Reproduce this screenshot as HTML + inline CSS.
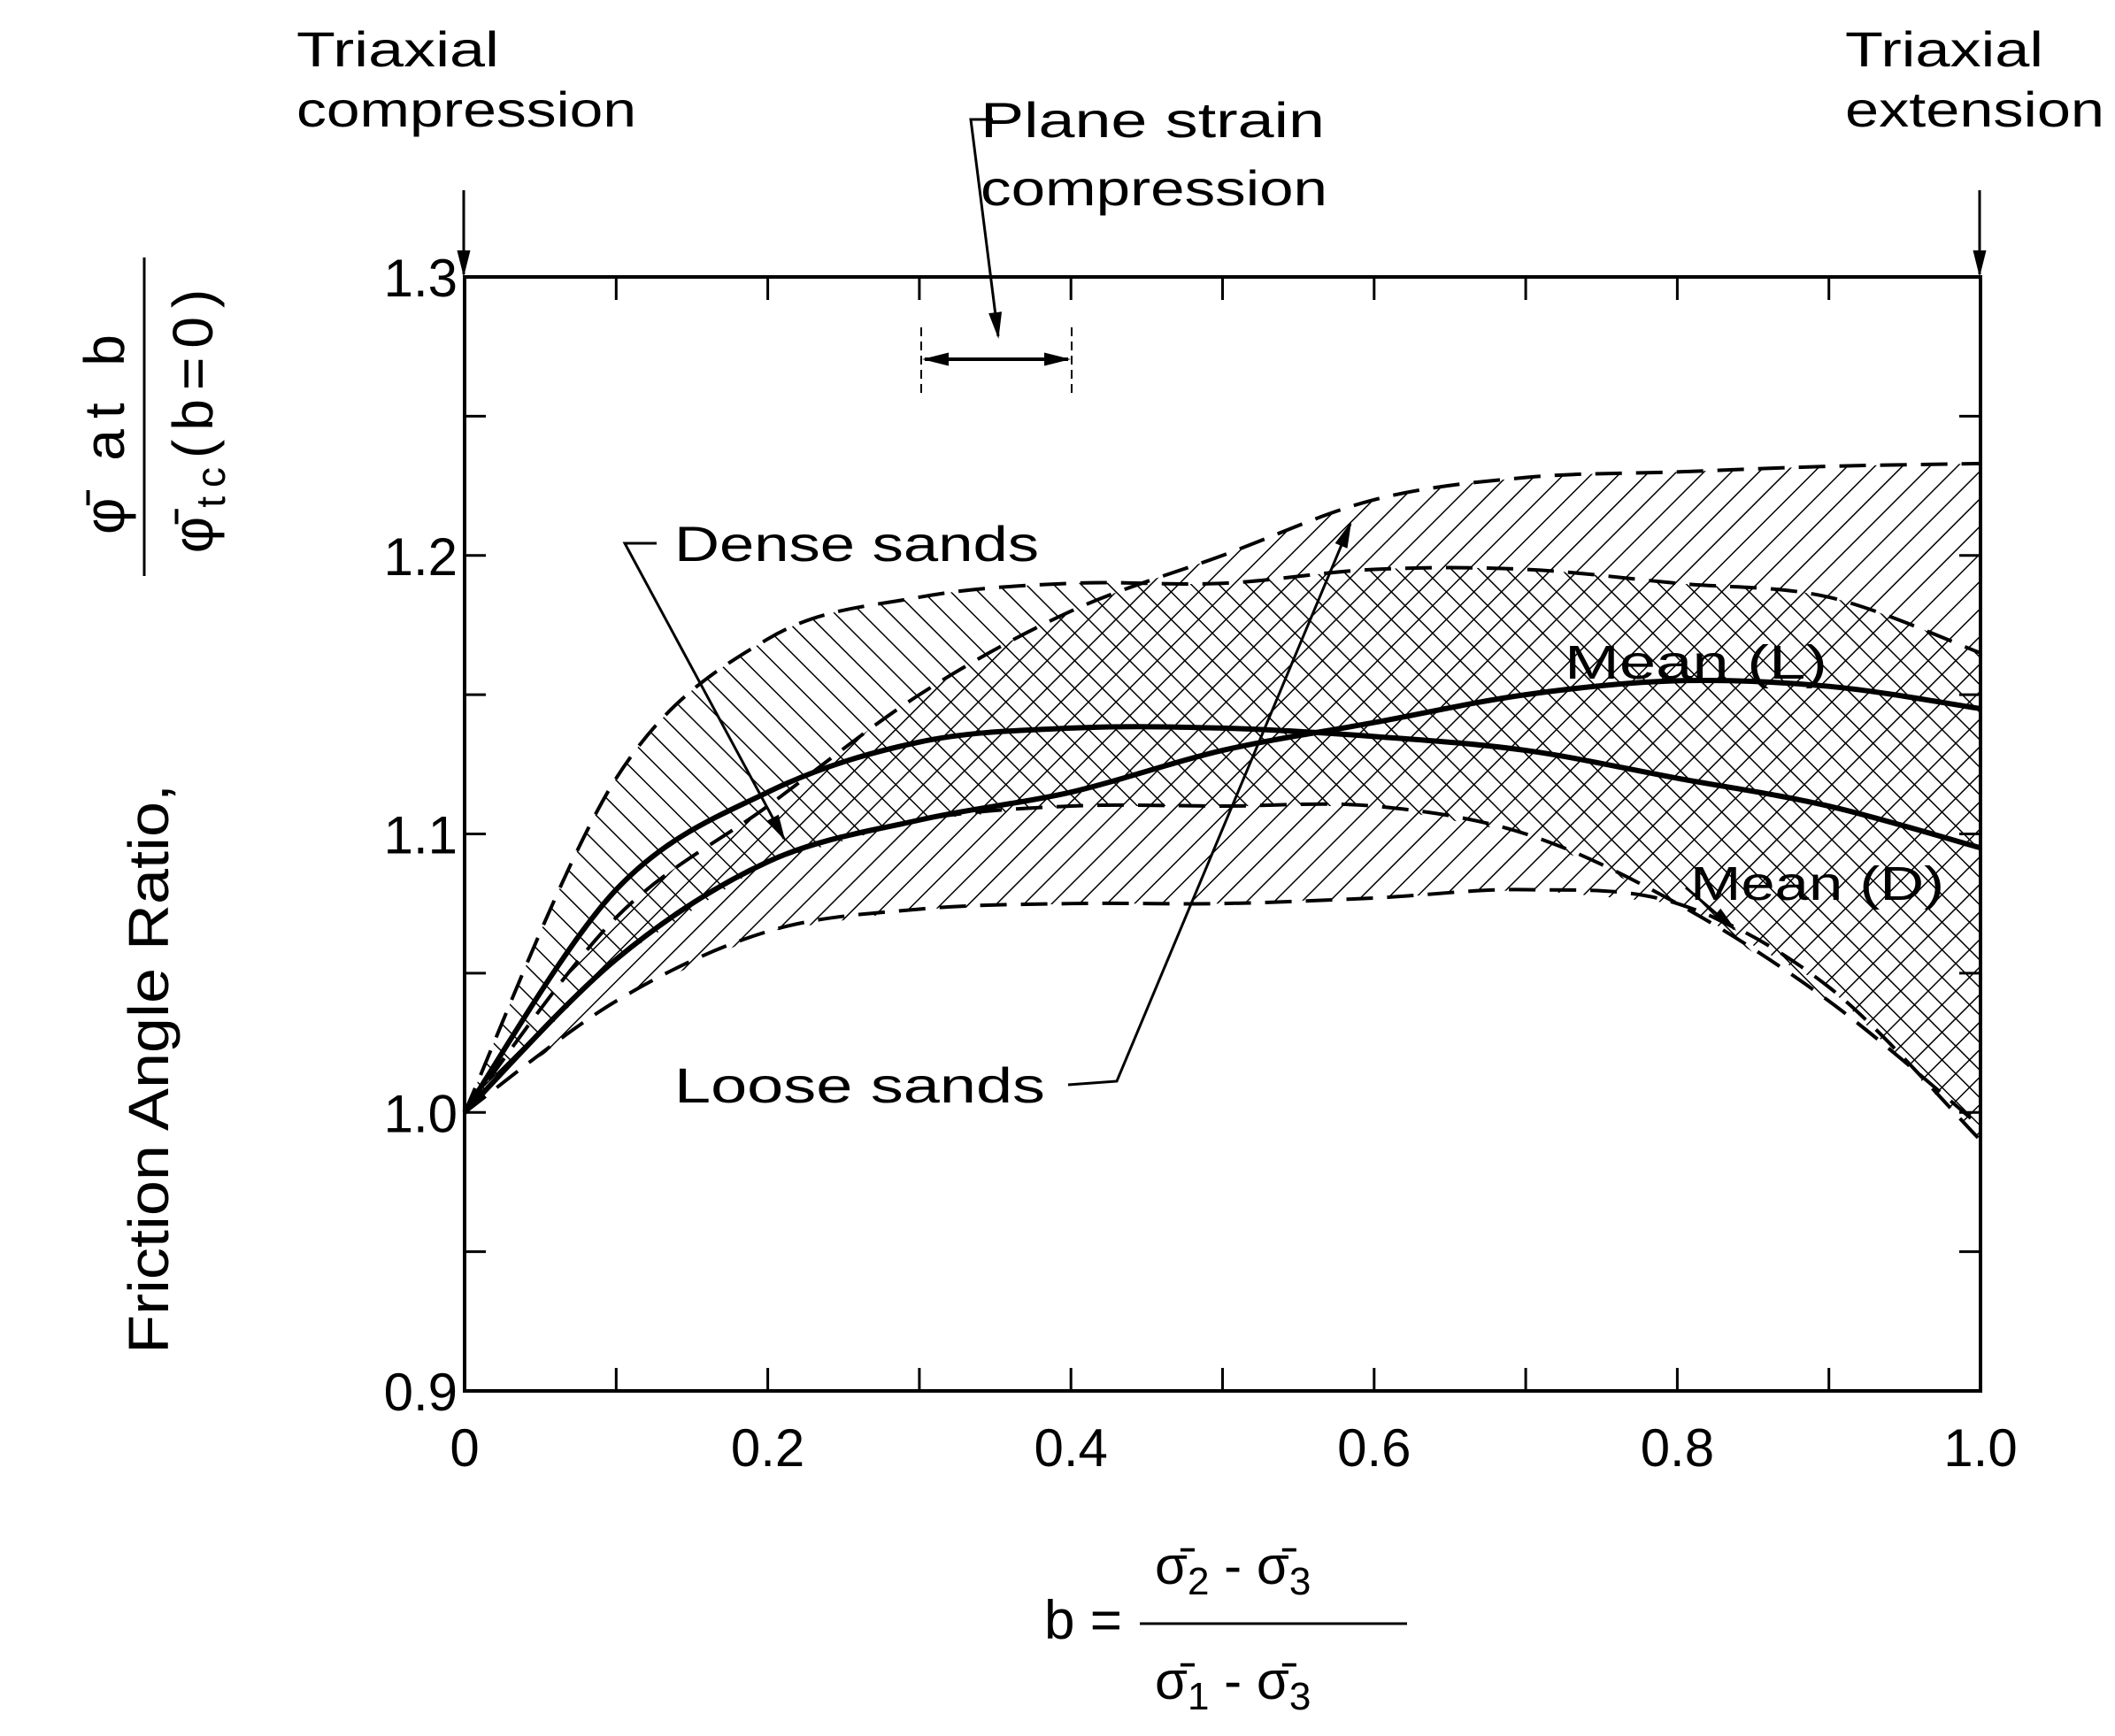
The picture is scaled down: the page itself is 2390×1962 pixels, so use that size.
<!DOCTYPE html>
<html><head><meta charset="utf-8"><style>
html,body{margin:0;padding:0;background:#fff;}
svg{display:block;}
text{font-family:"Liberation Sans",sans-serif;fill:#000;}
</style></head><body>
<svg id="chart" width="2390" height="1962" viewBox="0 0 2390 1962" xmlns="http://www.w3.org/2000/svg">
<defs>
<pattern id="hatchF" patternUnits="userSpaceOnUse" width="22" height="22" patternTransform="rotate(45)"><line x1="0" y1="0" x2="0" y2="22" stroke="#000" stroke-width="3"/></pattern>
<pattern id="hatchB" patternUnits="userSpaceOnUse" width="22" height="22" patternTransform="rotate(-45)"><line x1="0" y1="0" x2="0" y2="22" stroke="#000" stroke-width="3"/></pattern>
<marker id="ahb" viewBox="0 0 10 10" refX="9" refY="5" markerWidth="40" markerHeight="30" orient="auto-start-reverse" markerUnits="userSpaceOnUse"><path d="M0,2.5 L10,5 L0,7.5 z" fill="#000"/></marker>
</defs>
<g id="plot"></g>
<g id="annot">
<text x="335" y="75" font-size="56" textLength="229" lengthAdjust="spacingAndGlyphs">Triaxial</text>
<text x="335" y="143" font-size="56" textLength="384" lengthAdjust="spacingAndGlyphs">compression</text>
<line x1="524" y1="215" x2="524" y2="310" stroke="#000" stroke-width="3" marker-end="url(#ahb)"/>
<text x="2085" y="75" font-size="56" textLength="224" lengthAdjust="spacingAndGlyphs">Triaxial</text>
<text x="2085" y="143" font-size="56" textLength="293" lengthAdjust="spacingAndGlyphs">extension</text>
<line x1="2237" y1="215" x2="2237" y2="310" stroke="#000" stroke-width="3" marker-end="url(#ahb)"/>
<text x="1108" y="155" font-size="56" textLength="389" lengthAdjust="spacingAndGlyphs">Plane strain</text>
<text x="1108" y="232" font-size="56" textLength="392" lengthAdjust="spacingAndGlyphs">compression</text>
<polyline points="1122,135 1097,135 1128,380" fill="none" stroke="#000" stroke-width="3" marker-end="url(#ahb)"/>
<line x1="1041" y1="370" x2="1041" y2="445" stroke="#000" stroke-width="2" stroke-dasharray="10,6"/>
<line x1="1211" y1="370" x2="1211" y2="445" stroke="#000" stroke-width="2" stroke-dasharray="10,6"/>
<line x1="1045" y1="406" x2="1207" y2="406" stroke="#000" stroke-width="4" marker-start="url(#ahb)" marker-end="url(#ahb)"/>
<text x="762" y="634" font-size="56" textLength="412" lengthAdjust="spacingAndGlyphs">Dense sands</text>
<polyline points="742,614 706,614 886,948" fill="none" stroke="#000" stroke-width="3" marker-end="url(#ahb)"/>
<text x="762" y="1246" font-size="56" textLength="419" lengthAdjust="spacingAndGlyphs">Loose sands</text>
<polyline points="1207,1226 1262,1222 1526,592" fill="none" stroke="#000" stroke-width="3" marker-end="url(#ahb)"/>
<text x="1768" y="767" font-size="54" textLength="297" lengthAdjust="spacingAndGlyphs">Mean (L)</text>
<text x="1910" y="1017" font-size="54" textLength="287" lengthAdjust="spacingAndGlyphs">Mean (D)</text>
<line x1="1905" y1="1003" x2="1960" y2="1050" stroke="#000" stroke-width="3" marker-end="url(#ahb)"/>
<g transform="translate(168,1530) rotate(-90)">
<text x="0" y="22" font-size="64" textLength="644" lengthAdjust="spacingAndGlyphs">Friction Angle Ratio,</text>
<line x1="879" y1="-5" x2="1239" y2="-5" stroke="#000" stroke-width="3"/>
<text x="1045" y="-28" font-size="64" letter-spacing="12" text-anchor="middle">φ̄ at b</text>
<text x="1059" y="72" font-size="64" letter-spacing="10" text-anchor="middle">φ̄<tspan font-size="46" dy="14">tc</tspan><tspan dy="-14">(b=0)</tspan></text>
</g>
<g>
<text x="1180" y="1852" font-size="62">b =</text>
<line x1="1288" y1="1835" x2="1590" y2="1835" stroke="#000" stroke-width="3"/>
<text x="1305" y="1790" font-size="60">σ̄<tspan font-size="44" dy="12">2</tspan><tspan dy="-12"> - σ̄</tspan><tspan font-size="44" dy="12">3</tspan></text>
<text x="1305" y="1920" font-size="60">σ̄<tspan font-size="44" dy="12">1</tspan><tspan dy="-12"> - σ̄</tspan><tspan font-size="44" dy="12">3</tspan></text>
</g>
</g>
</svg>
<script>
const xTicks=[0,0.1,0.2,0.3,0.4,0.5,0.6,0.7,0.8,0.9,1.0];
const xLabels=["0","0.2","0.4","0.6","0.8","1.0"];
const xLabelVals=[0,0.2,0.4,0.6,0.8,1.0];
const yTicks=[0.9,0.95,1.0,1.05,1.1,1.15,1.2,1.25,1.3];
const yLabels=["0.9","1.0","1.1","1.2","1.3"];
const yLabelVals=[0.9,1.0,1.1,1.2,1.3];
const bVals=[0,0.1,0.2,0.3,0.4,0.5,0.6,0.7,0.8,0.9,1.0];
const denseUpper=[1.0,1.12,1.17,1.185,1.19,1.19,1.195,1.195,1.19,1.185,1.165];
const denseLower=[1.0,1.055,1.09,1.105,1.11,1.11,1.11,1.1,1.075,1.04,0.995];
const looseUpper=[1.0,1.07,1.11,1.15,1.18,1.2,1.22,1.228,1.23,1.232,1.233];
const looseLower=[1.0,1.04,1.065,1.073,1.075,1.075,1.077,1.08,1.075,1.045,0.99];
const meanL=[1.0,1.055,1.09,1.105,1.115,1.13,1.14,1.15,1.155,1.153,1.145];
const meanD=[1.0,1.08,1.115,1.133,1.138,1.138,1.135,1.13,1.12,1.11,1.095];

const X0=525,X1=2238,Y0=1572,Y1=313,VMIN=0.9,VMAX=1.3;
const xs=b=>X0+b*(X1-X0);
const ys=v=>Y0-(v-VMIN)/(VMAX-VMIN)*(Y0-Y1);
const NS='http://www.w3.org/2000/svg';
const plot=document.getElementById('plot');
function mk(tag,attrs,parent){const e=document.createElementNS(NS,tag);for(const k in attrs)e.setAttribute(k,attrs[k]);(parent||plot).appendChild(e);return e;}
function smooth(vals){
  const p=bVals.map((b,i)=>[xs(b),ys(vals[i])]);
  let d='M'+p[0][0]+','+p[0][1];
  for(let i=0;i<p.length-1;i++){
    const p0=p[Math.max(0,i-1)],p1=p[i],p2=p[i+1],p3=p[Math.min(p.length-1,i+2)];
    const c1=[p1[0]+(p2[0]-p0[0])/6,p1[1]+(p2[1]-p0[1])/6];
    const c2=[p2[0]-(p3[0]-p1[0])/6,p2[1]-(p3[1]-p1[1])/6];
    d+=' C'+c1[0]+','+c1[1]+' '+c2[0]+','+c2[1]+' '+p2[0]+','+p2[1];
  }
  return d;
}
function reversePath(vals){const r=vals.slice().reverse();const bs=bVals.slice().reverse();
  return bs.map((b,i)=>'L'+xs(b)+','+ys(r[i])).join(' ');}
function band(up,lo,pat,name){
  const d=smooth(up)+' '+reversePath(lo)+' Z';
  const e=mk('path',{d:d,fill:'url(#'+pat+')',stroke:'none'});
  
  
}
band(looseUpper,looseLower,'hatchF','loose-sands-band');
band(denseUpper,denseLower,'hatchB','dense-sands-band');
[[denseUpper,'dense-upper-bound'],[denseLower,'dense-lower-bound'],[looseUpper,'loose-upper-bound'],[looseLower,'loose-lower-bound']].forEach(([v,n])=>{
  const e=mk('path',{d:smooth(v),fill:'none',stroke:'#000','stroke-width':4,'stroke-dasharray':'30,16'});
  
  
});
[[meanL,'mean-l-line'],[meanD,'mean-d-line']].forEach(([v,n])=>{
  const e=mk('path',{d:smooth(v),fill:'none',stroke:'#000','stroke-width':6});
  
  
});
const fr=mk('rect',{x:X0,y:Y1,width:X1-X0,height:Y0-Y1,fill:'none',stroke:'#000','stroke-width':4});


xTicks.forEach(b=>{
  const t=mk('line',{x1:xs(b),y1:Y0,x2:xs(b),y2:Y0-26,stroke:'#000','stroke-width':3});
  
  
  const t2=mk('line',{x1:xs(b),y1:Y1,x2:xs(b),y2:Y1+26,stroke:'#000','stroke-width':3});
  
  
});
yTicks.forEach(v=>{
  const t=mk('line',{x1:X0,y1:ys(v),x2:X0+24,y2:ys(v),stroke:'#000','stroke-width':3});
  
  
  const t2=mk('line',{x1:X1,y1:ys(v),x2:X1-24,y2:ys(v),stroke:'#000','stroke-width':3});
  
  
});
xLabelVals.forEach((b,i)=>{
  const t=mk('text',{x:xs(b),y:Y0+85,'font-size':60,'text-anchor':'middle'});
  t.textContent=xLabels[i];
  
  
});
yLabelVals.forEach((v,i)=>{
  const t=mk('text',{x:X0-8,y:ys(v)+22,'font-size':60,'text-anchor':'end'});
  t.textContent=yLabels[i];
  
  
});
</script>
</body></html>
